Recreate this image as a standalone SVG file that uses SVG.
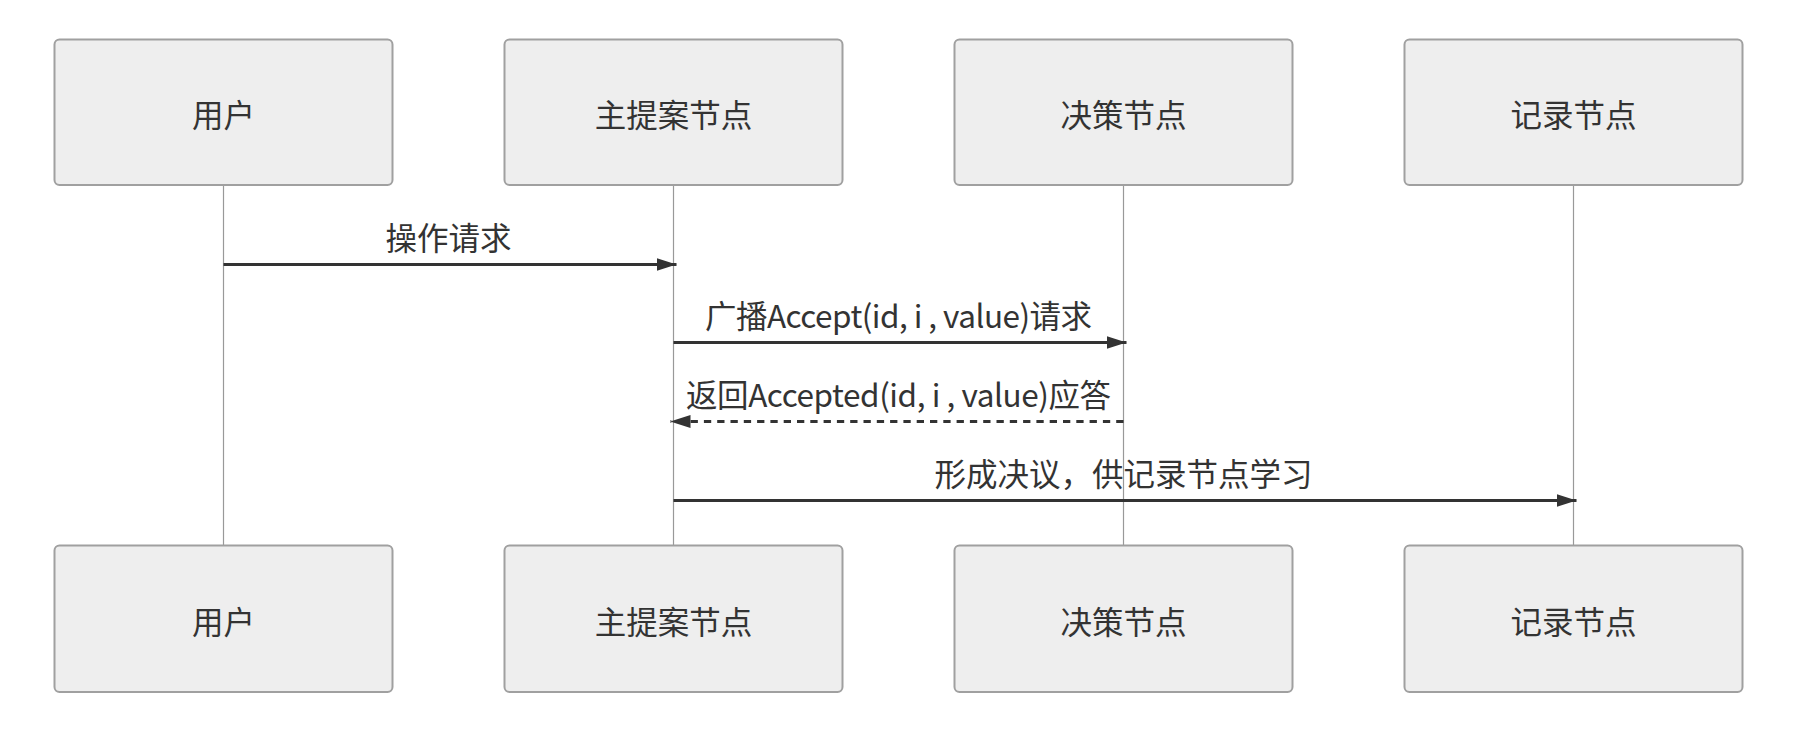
<svg xmlns="http://www.w3.org/2000/svg" width="1798" height="744" viewBox="0 0 1798 744">
<style>
.box{fill:#eeeeee;stroke:#a0a0a0;stroke-width:2}
.lbl{font-family:"Noto Sans CJK SC","Microsoft YaHei",sans-serif;font-size:31.5px;fill:#333333;text-anchor:middle}
.life{stroke:#999999;stroke-width:1.2}
.msg{stroke:#333333;stroke-width:3;fill:none}
.dash{stroke-dasharray:7.3 6}
</style>
<defs>
<marker id="ah" markerUnits="userSpaceOnUse" markerWidth="20" markerHeight="13" refX="20" refY="6.5" orient="auto">
<path d="M0,0 L20,6.5 L0,13 z" fill="#333333"/>
</marker>
</defs>
<rect width="1798" height="744" fill="#ffffff"/>
<g id="lifelines">
<line class="life" x1="223.5" y1="185" x2="223.5" y2="545"/>
<line class="life" x1="673.5" y1="185" x2="673.5" y2="545"/>
<line class="life" x1="1123.5" y1="185" x2="1123.5" y2="545"/>
<line class="life" x1="1573.5" y1="185" x2="1573.5" y2="545"/>
</g>
<g id="actor-user-top"><rect class="box" x="54.5" y="39.5" width="338" height="145.5" rx="5"/><text class="lbl" x="223.5" y="126.5">用户</text></g>
<g id="actor-proposer-top"><rect class="box" x="504.5" y="39.5" width="338" height="145.5" rx="5"/><text class="lbl" x="673.5" y="126.5">主提案节点</text></g>
<g id="actor-acceptor-top"><rect class="box" x="954.5" y="39.5" width="338" height="145.5" rx="5"/><text class="lbl" x="1123.5" y="126.5">决策节点</text></g>
<g id="actor-learner-top"><rect class="box" x="1404.5" y="39.5" width="338" height="145.5" rx="5"/><text class="lbl" x="1573.5" y="126.5">记录节点</text></g>
<g id="actor-user-bottom"><rect class="box" x="54.5" y="545.5" width="338" height="146.5" rx="5"/><text class="lbl" x="223.5" y="633.5">用户</text></g>
<g id="actor-proposer-bottom"><rect class="box" x="504.5" y="545.5" width="338" height="146.5" rx="5"/><text class="lbl" x="673.5" y="633.5">主提案节点</text></g>
<g id="actor-acceptor-bottom"><rect class="box" x="954.5" y="545.5" width="338" height="146.5" rx="5"/><text class="lbl" x="1123.5" y="633.5">决策节点</text></g>
<g id="actor-learner-bottom"><rect class="box" x="1404.5" y="545.5" width="338" height="146.5" rx="5"/><text class="lbl" x="1573.5" y="633.5">记录节点</text></g>
<g id="connectors">
<line class="msg" x1="223.5" y1="264.5" x2="676.5" y2="264.5" marker-end="url(#ah)"/>
<text class="lbl" x="448.5" y="250">操作请求</text>
<line class="msg" x1="673.5" y1="342.5" x2="1126.5" y2="342.5" marker-end="url(#ah)"/>
<text class="lbl" x="898.5" y="328" textLength="387" lengthAdjust="spacing">广播Accept(id, i , value)请求</text>
<line class="msg dash" x1="1123.5" y1="421.5" x2="670.5" y2="421.5" marker-end="url(#ah)"/>
<text class="lbl" x="898.5" y="407" textLength="425" lengthAdjust="spacing">返回Accepted(id, i , value)应答</text>
<line class="msg" x1="673.5" y1="500.5" x2="1576.5" y2="500.5" marker-end="url(#ah)"/>
<text class="lbl" x="1123.5" y="486">形成决议，供记录节点学习</text>
</g>
</svg>
